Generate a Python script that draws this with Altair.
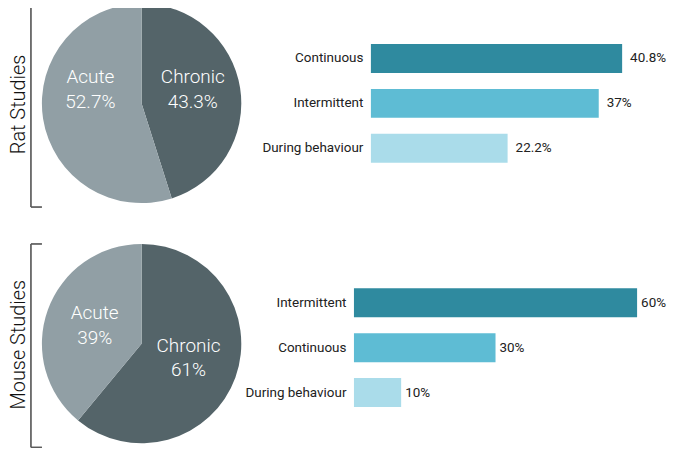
import altair as alt
import pandas as pd

# ---- data ----
rat_pie_cats = ["Chronic", "Acute"]
rat_pie_vals = [43.3, 52.7]
mouse_pie_cats = ["Chronic", "Acute"]
mouse_pie_vals = [61, 39]

rat_bar_cats = ["Continuous", "Intermittent", "During behaviour"]
rat_bar_vals = [40.8, 37, 22.2]
mouse_bar_cats = ["Intermittent", "Continuous", "During behaviour"]
mouse_bar_vals = [60, 30, 10]

row_titles = ["Rat Studies", "Mouse Studies"]

PIE_COLORS = ["#546469", "#919fa5"]
BAR_COLORS = ["#2f8a9f", "#5ebcd4", "#aadcea"]
FONT = "Roboto"


def pie_panel(cats, vals, title, label_dy, radius_lab):
    df = pd.DataFrame({"cat": cats, "v": vals, "i": list(range(len(cats)))})
    base = alt.Chart(df).transform_calculate(
        lab="datum.cat + '\\n' + format(datum.v, '.1~f') + '%'"
    )
    arc = base.mark_arc(stroke=None).encode(
        theta=alt.Theta("v:Q", stack=True),
        color=alt.Color("cat:N", scale=alt.Scale(domain=cats, range=PIE_COLORS), legend=None),
        order=alt.Order("i:Q"),
    )
    layers = [arc]
    for c in cats:
        t = base.mark_text(
            font=FONT, fontSize=19, fontWeight=300, color="white",
            lineBreak="\n", lineHeight=25, align="center", baseline="middle",
            dy=label_dy[c],
        ).encode(
            theta=alt.Theta("v:Q", stack=True),
            radius=alt.value(radius_lab),
            order=alt.Order("i:Q"),
            text=alt.condition(alt.datum.cat == c, "lab:N", alt.value("")),
        )
        layers.append(t)
    # bracket
    bx = -11
    layers.append(alt.Chart(df).mark_rule(color="#5a5a5a", strokeWidth=1.2).encode(
        x=alt.value(bx), y=alt.value(0), y2=alt.value(204)))
    layers.append(alt.Chart(df).mark_rule(color="#5a5a5a", strokeWidth=1.2).encode(
        x=alt.value(bx), x2=alt.value(bx + 11), y=alt.value(0)))
    layers.append(alt.Chart(df).mark_rule(color="#5a5a5a", strokeWidth=1.2).encode(
        x=alt.value(bx), x2=alt.value(bx + 11), y=alt.value(204)))
    layers.append(alt.Chart(pd.DataFrame({"t": [title]})).mark_text(
        font=FONT, fontSize=20, fontWeight=300, color="#111111",
        angle=270, align="center", baseline="middle",
    ).encode(text="t:N", x=alt.value(-23), y=alt.value(101)))
    return alt.layer(*layers).properties(width=200, height=200)


def bar_panel(cats, vals, width, align, dx):
    df = pd.DataFrame({"cat": cats, "v": vals})
    y = alt.Y("cat:N", sort=cats,
              scale=alt.Scale(paddingInner=0.356, paddingOuter=0.9, align=align),
              axis=alt.Axis(title=None, ticks=False, domain=False, labelPadding=8,
                            labelFont=FONT, labelFontSize=13.5, labelColor="#222222",
                            labelFontWeight=400))
    x = alt.X("v:Q", scale=alt.Scale(zero=True, nice=False), axis=None)
    bars = alt.Chart(df).mark_bar().encode(
        x=x, y=y,
        color=alt.Color("cat:N", scale=alt.Scale(domain=cats, range=BAR_COLORS), legend=None),
    )
    txt = alt.Chart(df).transform_calculate(
        lab="format(datum.v, '.1~f') + '%'"
    ).mark_text(font=FONT, fontSize=13.5, color="#222222", align="left",
                baseline="middle", dx=dx).encode(x=x, y=y, text="lab:N")
    return alt.layer(bars, txt).properties(width=width, height=200)


RES = dict(color="independent", theta="independent", x="independent", y="independent")

row1 = alt.hconcat(
    pie_panel(rat_pie_cats, rat_pie_vals, row_titles[0], {"Chronic": -18, "Acute": -34}, 52),
    bar_panel(rat_bar_cats, rat_bar_vals, 252, 0.5, 8),
    spacing=130, bounds="flush",
).resolve_scale(**RES)
row2 = alt.hconcat(
    pie_panel(mouse_pie_cats, mouse_pie_vals, row_titles[1], {"Chronic": -15, "Acute": -14}, 50),
    bar_panel(mouse_bar_cats, mouse_bar_vals, 284, 0.55, 4),
    spacing=113, bounds="flush",
).resolve_scale(**RES)

chart = alt.vconcat(row1, row2, spacing=35).resolve_scale(**RES).properties(
    padding={"left": 0, "top": -6, "right": 0, "bottom": 0}
).configure(background="white").configure_view(stroke="transparent", strokeWidth=0)

chart.save("out.html", embed_options={"renderer": "svg", "actions": False})
